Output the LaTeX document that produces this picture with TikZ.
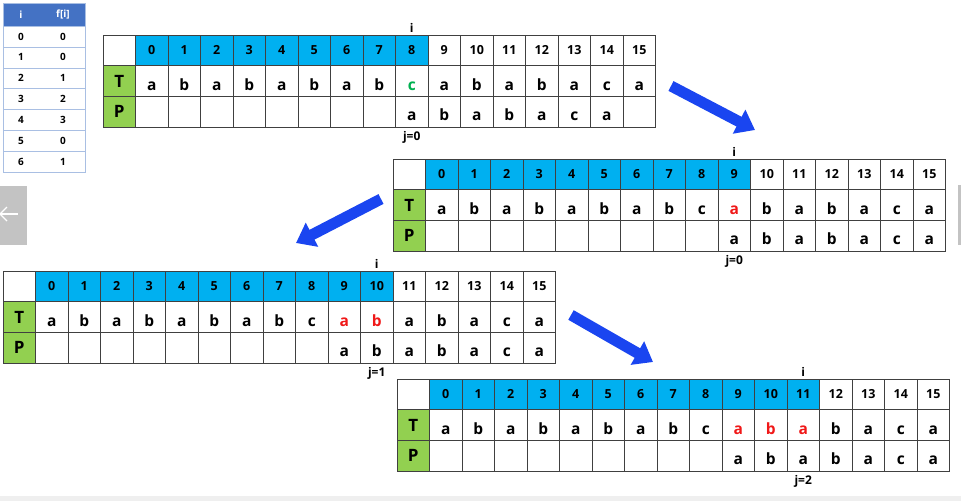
\documentclass[tikz,border=0pt]{standalone}
\usepackage{fontspec}
\setmainfont{Open Sans}
\usepackage{tikz}
\usetikzlibrary{positioning,arrows.meta}
\definecolor{idxblue}{HTML}{00B0F0}
\definecolor{rowgreen}{HTML}{92D050}
\definecolor{hitred}{HTML}{F01818}
\definecolor{hitgreen}{HTML}{00B050}
\definecolor{fblue}{HTML}{4472C4}
\definecolor{fline}{HTML}{A9BFE3}
\definecolor{bigblue}{HTML}{1A45F0}
\definecolor{gridgrey}{HTML}{404040}
\definecolor{sidegrey}{HTML}{C3C3C3}
\definecolor{bargrey}{HTML}{EFEFEF}
\tikzset{
  cell/.style={rectangle, draw=gridgrey, line width=0.9pt, minimum width=32.5pt,
               minimum height=30.7pt, inner sep=0pt, outer sep=0pt,
               text height=18pt, text depth=0pt,
               font=\bfseries\fontsize{15.5}{15.5}\selectfont},
  hcell/.style={cell, fill=#1, text height=9pt,
                font=\bfseries\fontsize{12.5}{12.5}\selectfont},
  rowhead/.style={cell, fill=rowgreen, text height=12pt,
                  font=\bfseries\fontsize{17}{17}\selectfont},
  ptrlbl/.style={font=\bfseries\fontsize{12}{12}\selectfont, inner sep=1pt},
  fhead/.style={rectangle, fill=fblue, draw=fline, line width=0.6pt,
                minimum width=82pt, minimum height=23pt, inner sep=0pt},
  frow/.style={rectangle, fill=white, draw=fline, line width=0.6pt,
               minimum width=82pt, minimum height=20.9pt, inner sep=0pt},
  ftxt/.style={font=\bfseries\fontsize{10}{10}\selectfont, inner sep=0pt},
  bigarrow/.style={-{Triangle[length=18pt,width=26pt]}, line width=11pt, draw=bigblue},
}
% one step of the match: name, x, y, i, first matched column, colour, j
\newcommand{\kmpstep}[7]{%
  \begin{scope}[shift={(#2,#3)}]
    \node[hcell=white] (#1-h) at (16.25,15.35) {};
    \node[rowhead] (#1-T) at (16.25,46.05) {T};
    \node[rowhead] (#1-P) at (16.25,76.75) {P};
    \foreach \cc/\tc in {0/a,1/b,2/a,3/b,4/a,5/b,6/a,7/b,8/c,9/a,10/b,11/a,12/b,13/a,14/c,15/a} {
      \ifnum\cc>#4 \def\hcol{white}\else\def\hcol{idxblue}\fi
      \def\tcol{black}
      \ifnum\cc<#5 \else\ifnum\cc>#4 \else\def\tcol{#6}\fi\fi
      \pgfmathtruncatemacro\pk{\cc-#5}
      \def\pc{}
      \ifnum\pk>-1 \ifnum\pk<7 \pgfmathparse{{"a","b","a","b","a","c","a"}[\pk]}\let\pc\pgfmathresult\fi\fi
      \node[hcell=\hcol] (#1-h\cc) at ({48.75+32.5*\cc},15.35) {\cc};
      \node[cell, text=\tcol] (#1-t\cc) at ({48.75+32.5*\cc},46.05) {\tc};
      \node[cell] (#1-p\cc) at ({48.75+32.5*\cc},76.75) {\pc};
    }
    \node[ptrlbl, above=1.5pt of #1-h#4] (#1-i) {i};
    \node[ptrlbl, below=3pt of #1-p#4] (#1-j) {j=#7};
  \end{scope}
}

\begin{document}
\begin{tikzpicture}[x=1pt, y=-1pt]
  \useasboundingbox (0,0) rectangle (961,501);

  % f table
  \node[fhead] (fh) at (44,14.5) {};
  \node[ftxt, text=white] (fh-i) at (21,14.5) {i};
  \node[ftxt, text=white] (fh-f) at (63,14.5) {f[i]};
  \foreach \r/\f [count=\n] in {0/0,1/0,2/1,3/2,4/3,5/0,6/1} {
    \node[frow] (fr\r) at (44,{15.55+20.9*\n}) {};
    \node[ftxt] (fi\r) at (21,{15.55+20.9*\n}) {\r};
    \node[ftxt] (ff\r) at (63,{15.55+20.9*\n}) {\f};
  }

  % the four steps
  \kmpstep{s1}{103}{35}{8}{8}{hitgreen}{0}
  \kmpstep{s2}{393}{159}{9}{9}{hitred}{0}
  \kmpstep{s3}{3}{271}{10}{9}{hitred}{1}
  \kmpstep{s4}{397}{379}{11}{9}{hitred}{2}

  % arrows between steps
  \coordinate (a1s) at (671,86);
  \coordinate (a1e) at (755,130);
  \coordinate (a2s) at (381,199);
  \coordinate (a2e) at (296,243);
  \coordinate (a3s) at (571,315);
  \coordinate (a3e) at (653,362);
  \draw[bigarrow] (a1s) -- (a1e);
  \draw[bigarrow] (a2s) -- (a2e);
  \draw[bigarrow] (a3s) -- (a3e);

  % page edges
  \fill[sidegrey] (0,186) rectangle (27,245);
  \fill[sidegrey] (958,185) rectangle (961,245);
  \fill[bargrey] (0,496) rectangle (961,501);
  \draw[white, line width=1.2pt] (18,214) -- (0,214);
  \draw[white, line width=1.2pt] (7,207) -- (0,214) -- (7,221);
\end{tikzpicture}
\end{document}
